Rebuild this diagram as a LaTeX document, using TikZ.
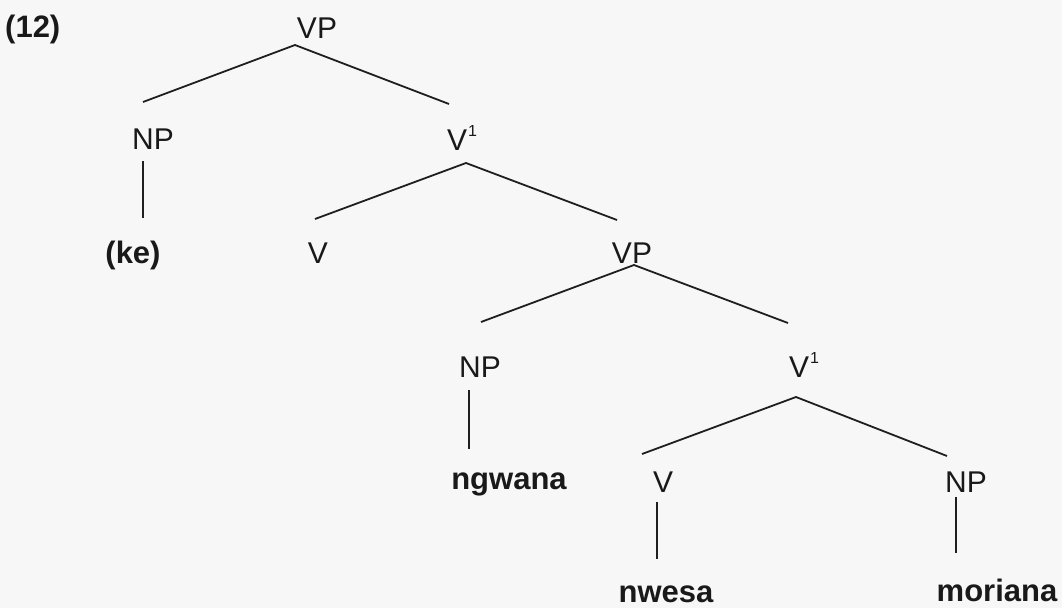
\documentclass[tikz,border=0pt]{standalone}
\usepackage{fontspec}
\setmainfont{Liberation Sans}
\newcommand\barone{\kern1pt\raisebox{14pt}{\fontsize{16}{16}\selectfont 1}}
\begin{document}
\begin{tikzpicture}[x=1pt,y=-1pt,
  lab/.style={anchor=base,inner sep=0pt,font=\fontsize{30}{34}\selectfont,text=black!90},
  word/.style={lab,font=\fontsize{31}{35}\selectfont\bfseries},
  branch/.style={line width=1.8pt,draw=black!88},
  stem/.style={line width=1.2pt,draw=black!88}]
\fill[black!3] (0,0) rectangle (1062,608);
\useasboundingbox (0,0) rectangle (1062,608);
% labels
\node[word,anchor=base west] (ex) at (5,37) {(12)};
\node[lab] (vp1) at (317,38) {VP};
\node[lab] (np1) at (153,149) {NP};
\node[lab] (vb1) at (462,150) {V\barone};
\node[word] (ke) at (133,263) {(ke)};
\node[lab] (v1) at (318,263) {V};
\node[lab] (vp2) at (632,263) {VP};
\node[lab] (np2) at (480,377) {NP};
\node[lab] (vb2) at (804,377) {V\barone};
\node[word] (ngwana) at (509,489) {ngwana};
\node[lab] (v2) at (663,492) {V};
\node[lab] (np3) at (966,492) {NP};
\node[word] (nwesa) at (666,602) {nwesa};
\node[word] (moriana) at (997,601) {moriana};
% attachment points
\coordinate (vp1b) at (295,45);
\coordinate (np1t) at (143,102);
\coordinate (vb1t) at (449,104);
\coordinate (np1b) at (143,161);
\coordinate (ket) at (143,218);
\coordinate (vb1b) at (466,163);
\coordinate (v1t) at (315,219);
\coordinate (vp2t) at (617,220);
\coordinate (vp2b) at (634,265);
\coordinate (np2t) at (481,322);
\coordinate (vb2t) at (788,323);
\coordinate (np2b) at (469,390);
\coordinate (ngt) at (469,449);
\coordinate (vb2b) at (796,397);
\coordinate (v2t) at (642,454);
\coordinate (np3t) at (947,456);
\coordinate (v2b) at (657,502);
\coordinate (nwt) at (657,559);
\coordinate (np3b) at (956,497);
\coordinate (mot) at (956,553);
% connectors
\draw[branch] (np1t) -- (vp1b) -- (vb1t);
\draw[stem] (np1b) -- (ket);
\draw[branch] (v1t) -- (vb1b) -- (vp2t);
\draw[branch] (np2t) -- (vp2b) -- (vb2t);
\draw[stem] (np2b) -- (ngt);
\draw[branch] (v2t) -- (vb2b) -- (np3t);
\draw[stem] (v2b) -- (nwt);
\draw[stem] (np3b) -- (mot);
\end{tikzpicture}
\end{document}
